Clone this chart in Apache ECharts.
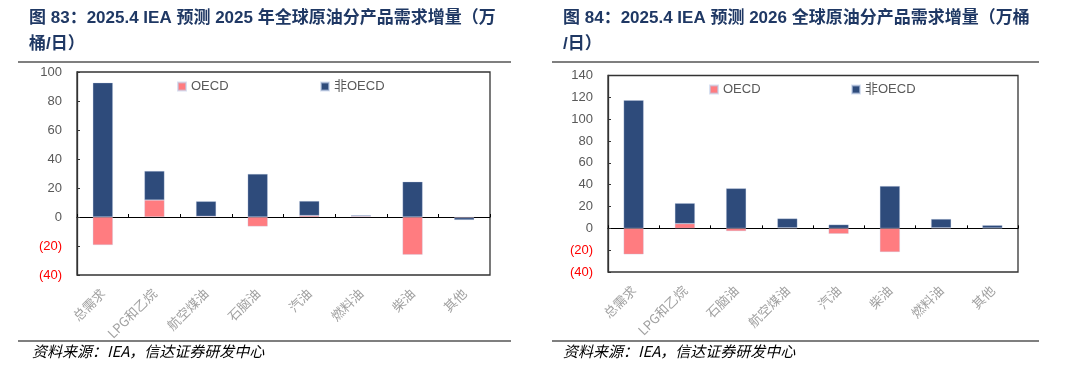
<!DOCTYPE html>
<html><head><meta charset="utf-8">
<script src="https://cdn.jsdelivr.net/npm/echarts@6/dist/echarts.min.js"></script>
<style>html,body{margin:0;padding:0;background:#fff}#c{width:1080px;height:373px}</style>
</head><body><div id="c"></div>
<script>
// ---- data ----
const title1a = '图 83：2025.4 IEA 预测 2025 年全球原油分产品需求增量（万';
const title1b = '桶/日）';
const title2a = '图 84：2025.4 IEA 预测 2026 全球原油分产品需求增量（万桶';
const title2b = '/日）';
const sourceText = '资料来源：IEA，信达证券研发中心';
const seriesNames = ['OECD', '非OECD'];

const cats1 = ['总需求', 'LPG和乙烷', '航空煤油', '石脑油', '汽油', '燃料油', '柴油', '其他'];
const oecd1 = [-19.3, 11.7, 0.5, -6.5, 1, 0.6, -26, -0.5];
const nonOecd1 = [92.6, 20, 10.3, 29.7, 10, 0.6, 24.3, -1.5];

const cats2 = ['总需求', 'LPG和乙烷', '石脑油', '航空煤油', '汽油', '柴油', '燃料油', '其他'];
const oecd2 = [-23.8, 4.3, -2.5, 0.5, -5, -21.7, 0.5, 0.3];
const nonOecd2 = [117.3, 18.7, 36.6, 8.5, 3.4, 38.7, 8, 2.5];

const yTicks1 = { min: -40, max: 100, interval: 20 };
const yTicks2 = { min: -40, max: 140, interval: 20 };

// ---- styles ----
const RED = '#FF7C80', NAVY = '#2E4B7B', TITLE = '#1F3864', GRAYTXT = '#595959';
const fontLatin = '"Liberation Sans", Arial, "Noto Sans CJK SC", sans-serif';
const fontCJK = '"Liberation Sans", "Noto Sans CJK SC", sans-serif';

function yAxis(gi, t) {
  return {
    type: 'value', gridIndex: gi, min: t.min, max: t.max, interval: t.interval,
    axisLine: { show: true, lineStyle: { color: '#333', width: 1.3 } },
    axisTick: { show: true, inside: true, length: 3, lineStyle: { color: '#333' } },
    splitLine: { show: false },
    axisLabel: {
      margin: 15, fontFamily: fontLatin,
      formatter: v => v < 0 ? '{neg|(' + (-v) + ')}' : '{pos|' + v + '}',
      rich: {
        neg: { color: '#FF0000', fontSize: 13, fontFamily: fontLatin },
        pos: { color: GRAYTXT, fontSize: 13, fontFamily: fontLatin }
      }
    }
  };
}
function xLabelAxis(gi, cats) {
  return {
    type: 'category', gridIndex: gi, data: cats,
    axisLine: { show: false, onZero: false },
    axisTick: { show: false },
    axisLabel: { interval: 0, rotate: 45, margin: 16, color: '#A0A0A0', fontSize: 13, fontFamily: '"Noto Sans CJK SC", sans-serif' }
  };
}
function xZeroAxis(gi, cats) {
  return {
    type: 'category', gridIndex: gi, data: cats, position: 'bottom',
    axisLine: { show: true, onZero: true, lineStyle: { color: '#000', width: 1 } },
    axisTick: { show: true, inside: true, length: 3, interval: 0, lineStyle: { color: '#000' } },
    axisLabel: { show: false }
  };
}
function bar(name, data, xi, yi, stack, color) {
  return {
    type: 'bar', name, data, xAxisIndex: xi, yAxisIndex: yi, stack, barWidth: 20,
    itemStyle: { color, borderColor: 'rgba(190,205,232,0.6)', borderWidth: 0.5 }
  };
}
function legend(name, left, top) {
  return {
    data: [name], left, top, padding: 0, itemWidth: 8, itemHeight: 8, icon: 'rect',
    textStyle: { color: GRAYTXT, fontSize: 13, fontFamily: fontCJK }, itemGap: 4
  };
}

const titleStyle = { fill: TITLE, font: 'bold 17px ' + fontCJK };
const srcStyle = { fill: '#000', font: 'italic 15px "Noto Sans CJK SC", sans-serif' };

const chart = echarts.init(document.getElementById('c'));
chart.setOption({
  animation: false,
  backgroundColor: '#fff',
  grid: [
    { left: 77, top: 72, width: 413, height: 203, show: true, borderColor: '#333', borderWidth: 1.3, containLabel: false },
    { left: 608, top: 75.5, width: 410, height: 196.5, show: true, borderColor: '#333', borderWidth: 1.3, containLabel: false }
  ],
  xAxis: [xLabelAxis(0, cats1), xZeroAxis(0, cats1), xLabelAxis(1, cats2), xZeroAxis(1, cats2)],
  yAxis: [yAxis(0, yTicks1), yAxis(1, yTicks2)],
  legend: [
    legend(seriesNames[0], 177, 80), legend(seriesNames[1], 320, 80),
    legend(seriesNames[0], 709, 83), legend(seriesNames[1], 851, 83)
  ],
  series: [
    bar(seriesNames[0], oecd1, 0, 0, 's1', RED),
    bar(seriesNames[1], nonOecd1, 0, 0, 's1', NAVY),
    bar(seriesNames[0], oecd2, 2, 1, 's2', RED),
    bar(seriesNames[1], nonOecd2, 2, 1, 's2', NAVY)
  ],
  graphic: [
    { type: 'text', left: 29, top: 10, style: Object.assign({ text: title1a }, titleStyle) },
    { type: 'text', left: 29, top: 36, style: Object.assign({ text: title1b }, titleStyle) },
    { type: 'text', left: 563, top: 10, style: Object.assign({ text: title2a }, titleStyle) },
    { type: 'text', left: 563, top: 36, style: Object.assign({ text: title2b }, titleStyle) },
    { type: 'line', shape: { x1: 18, y1: 62, x2: 511, y2: 62 }, style: { stroke: '#555', lineWidth: 1.5 } },
    { type: 'line', shape: { x1: 552, y1: 62, x2: 1039, y2: 62 }, style: { stroke: '#555', lineWidth: 1.5 } },
    { type: 'line', shape: { x1: 18, y1: 341, x2: 511, y2: 341 }, style: { stroke: '#555', lineWidth: 1.5 } },
    { type: 'line', shape: { x1: 552, y1: 341, x2: 1039, y2: 341 }, style: { stroke: '#555', lineWidth: 1.5 } },
    { type: 'text', left: 32, top: 344, style: Object.assign({ text: sourceText }, srcStyle) },
    { type: 'text', left: 563, top: 344, style: Object.assign({ text: sourceText }, srcStyle) }
  ]
});
</script></body></html>
